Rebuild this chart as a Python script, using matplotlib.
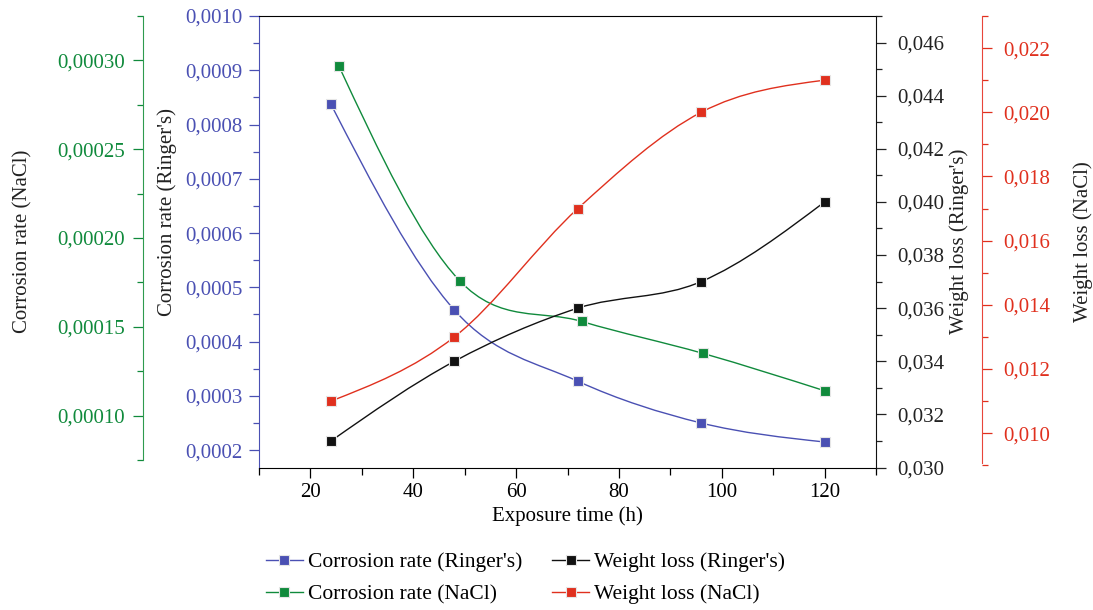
import numpy as np
import matplotlib
matplotlib.use('Agg')
import matplotlib.pyplot as plt
from matplotlib.path import Path
from matplotlib.patches import PathPatch
from matplotlib.lines import Line2D
from matplotlib.ticker import MultipleLocator, FuncFormatter

plt.rcParams['font.family'] = ['Liberation Serif', 'DejaVu Serif']
plt.rcParams['font.size'] = 15

# data
time = [24, 48, 72, 96, 120]
time_nacl_cr = [25.5, 49, 72.8, 96.4, 120]
cr_ringer = [0.000837, 0.000458, 0.000327, 0.000250, 0.000215]
cr_nacl = [0.000297, 0.000176, 0.000153, 0.000135, 0.000114]
wl_ringer = [0.031, 0.034, 0.036, 0.037, 0.040]
wl_nacl = [0.011, 0.013, 0.017, 0.020, 0.021]

blue = '#4a50b3'
green = '#108a3c'
black = '#111111'
red = '#e0301e'


def smooth_path(x, y):
    # cubic bezier through the points (spline-style connection)
    x = np.asarray(x, float)
    y = np.asarray(y, float)
    n = len(x)
    m = np.empty(n)
    m[1:-1] = (y[2:] - y[:-2]) / (x[2:] - x[:-2])
    m[0] = (3 * (y[1] - y[0]) / (x[1] - x[0]) - m[1]) / 2
    m[-1] = (3 * (y[-1] - y[-2]) / (x[-1] - x[-2]) - m[-2]) / 2
    verts = [(x[0], y[0])]
    codes = [Path.MOVETO]
    for i in range(n - 1):
        h = x[i + 1] - x[i]
        verts += [(x[i] + h / 3, y[i] + m[i] * h / 3),
                  (x[i + 1] - h / 3, y[i + 1] - m[i + 1] * h / 3),
                  (x[i + 1], y[i + 1])]
        codes += [Path.CURVE4] * 3
    return Path(verts, codes)


def fmt(dec):
    return FuncFormatter(lambda v, p: f'{v:.{dec}f}'.replace('.', ','))


def draw(ax, x, y, color):
    ax.add_patch(PathPatch(smooth_path(x, y), facecolor='none', edgecolor=color, lw=1.0, zorder=2))
    ax.plot(x, y, 's', color=color, ms=7.2, mec='#e6e6e6', mew=0.8, zorder=3)


fig = plt.figure(figsize=(10.93, 6.10), dpi=100)
ax = fig.add_axes([0.237, 0.2336, 0.5645, 0.7402])
ax_g = ax.twinx()
ax_k = ax.twinx()
ax_r = ax.twinx()

draw(ax, time, cr_ringer, blue)
draw(ax_g, time_nacl_cr, cr_nacl, green)
draw(ax_k, time, wl_ringer, black)
draw(ax_r, time, wl_nacl, red)

ax.set_xlim(10, 130)
ax.xaxis.set_major_locator(MultipleLocator(20))
ax.xaxis.set_minor_locator(MultipleLocator(10))
ax.set_xlabel('Exposure time (h)', labelpad=3)
ax.tick_params(axis='x', which='major', length=7, width=0.9, pad=4)
ax.tick_params(axis='x', which='minor', length=5, width=0.9)

# blue (left)
ax.set_ylim(0.000168, 0.0010)
ax.yaxis.set_major_locator(MultipleLocator(0.0001))
ax.yaxis.set_minor_locator(MultipleLocator(0.00005))
ax.yaxis.set_major_formatter(fmt(4))
ax.tick_params(axis='y', which='major', length=7, width=0.9, colors=blue, pad=5)
ax.tick_params(axis='y', which='minor', length=4, width=0.9, colors=blue)
ax.spines['left'].set_color(blue)
ax.spines['right'].set_visible(False)
ax.set_ylabel("Corrosion rate (Ringer's)", color='#222222')
ax.yaxis.set_label_coords(-0.133, 0.566)

# green (left, offset)
ax_g.set_ylim(0.0000708, 0.000325)
ax_g.yaxis.set_ticks_position('left')
ax_g.yaxis.set_label_position('left')
for s in ['right', 'top', 'bottom']:
    ax_g.spines[s].set_visible(False)
ax_g.spines['left'].set_visible(True)
ax_g.spines['left'].set_position(('axes', -0.1875))
ax_g.spines['left'].set_bounds(0.000075, 0.000325)
ax_g.spines['left'].set_color('#2e9b4e')
ax_g.yaxis.set_major_locator(MultipleLocator(0.00005))
ax_g.yaxis.set_minor_locator(MultipleLocator(0.000025))
ax_g.yaxis.set_major_formatter(fmt(5))
ax_g.tick_params(axis='y', which='major', length=7, width=0.9, colors=green, pad=6)
ax_g.tick_params(axis='y', which='minor', length=4, width=0.9, colors=green)
ax_g.set_ylabel('Corrosion rate (NaCl)', color='#222222')
ax_g.yaxis.set_label_coords(-0.368, 0.5)

# black (right)
ax_k.set_ylim(0.030, 0.047)
for s in ['left', 'top', 'bottom']:
    ax_k.spines[s].set_visible(False)
ax_k.spines['right'].set_color(black)
ax_k.yaxis.set_major_locator(MultipleLocator(0.002))
ax_k.yaxis.set_minor_locator(MultipleLocator(0.001))
ax_k.yaxis.set_major_formatter(fmt(3))
ax_k.tick_params(axis='y', which='major', length=7, width=0.9, colors='#222222', pad=8)
ax_k.tick_params(axis='y', which='minor', length=4, width=0.9, colors='#222222')
ax_k.set_ylabel("Weight loss (Ringer's)", color='#222222')
ax_k.yaxis.set_label_coords(1.118, 0.5)

# red (right, offset)
ax_r.set_ylim(0.00893, 0.023)
for s in ['left', 'top', 'bottom']:
    ax_r.spines[s].set_visible(False)
ax_r.spines['right'].set_position(('axes', 1.1718))
ax_r.spines['right'].set_bounds(0.00906, 0.023)
ax_r.spines['right'].set_color('#e8453a')
ax_r.yaxis.set_major_locator(MultipleLocator(0.002))
ax_r.yaxis.set_minor_locator(MultipleLocator(0.001))
ax_r.yaxis.set_major_formatter(fmt(3))
ax_r.tick_params(axis='y', which='major', length=7, width=0.9, colors=red, pad=8)
ax_r.tick_params(axis='y', which='minor', length=4, width=0.9, colors=red)
ax_r.set_ylabel('Weight loss (NaCl)', color='#222222')
ax_r.yaxis.set_label_coords(1.319, 0.5)

handles = [
    Line2D([], [], color=blue, marker='s', ms=7.2, mec='#e6e6e6', mew=0.8, lw=1.0),
    Line2D([], [], color=green, marker='s', ms=7.2, mec='#e6e6e6', mew=0.8, lw=1.0),
    Line2D([], [], color=black, marker='s', ms=7.2, mec='#e6e6e6', mew=0.8, lw=1.0),
    Line2D([], [], color=red, marker='s', ms=7.2, mec='#e6e6e6', mew=0.8, lw=1.0),
]
labels = ["Corrosion rate (Ringer's)", 'Corrosion rate (NaCl)',
          "Weight loss (Ringer's)", 'Weight loss (NaCl)']
fig.legend(handles, labels, ncol=2, loc='center', bbox_to_anchor=(0.481, 0.052),
           frameon=False, handlelength=1.7, handletextpad=0.25, columnspacing=1.4,
           labelspacing=0.55, fontsize=15.5)

fig.savefig('out.png', dpi=100)
